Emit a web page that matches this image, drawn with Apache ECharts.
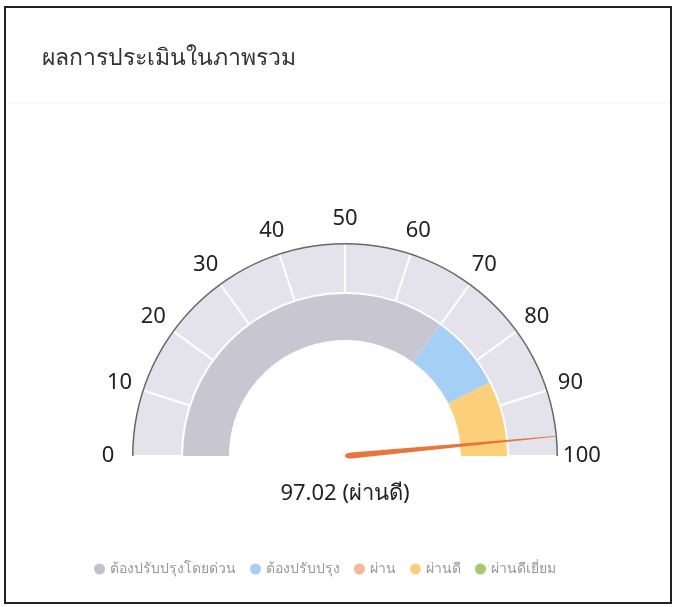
<!DOCTYPE html>
<html>
<head>
    <meta charset="utf-8">
    <title>ECharts</title>
    <script src="https://cdn.jsdelivr.net/npm/echarts@6/dist/echarts.min.js"></script>
    <style>
        body { margin: 0; background: #fff; }
    </style>
</head>
<body>
<div id="main" style="width: 676px;height:607px;"></div>
<script type="text/javascript">
    // ข้อมูล
    var titleText = 'ผลการประเมินในภาพรวม';
    var scoreValue = 97.02;
    var scoreGrade = 'ผ่านดี';
    var axisMin = 0;
    var axisMax = 100;
    var axisSplit = 10;
    // ช่วงแถบสีด้านใน (ค่าสิ้นสุดของแต่ละช่วง)
    var bandEnds = [70, 85, 100];
    var legendNames = ['ต้องปรับปรุงโดยด่วน', 'ต้องปรับปรุง', 'ผ่าน', 'ผ่านดี', 'ผ่านดีเยี่ยม'];

    var legendColors = ['#c4c1cc', '#a6cff5', '#f5b89c', '#fcd07a', '#a6c96a'];
    var bandColors = ['#c8c6d1', '#a6cff5', '#fcd07a'];
    var fontFamily = '"Noto Sans", "Open Sans", sans-serif';

    var center = [345, 456];

    function hiddenParts() {
        return {
            axisLine: { show: false, lineStyle: { width: 0 } },
            splitLine: { show: false, length: 0 },
            axisTick: { show: false, length: 0 },
            axisLabel: { show: false },
            pointer: { show: false },
            anchor: { show: false },
            title: { show: false },
            detail: { show: false }
        };
    }

    function gauge(extra) {
        var base = hiddenParts();
        base.type = 'gauge';
        base.center = center;
        base.startAngle = 180;
        base.endAngle = 0;
        base.min = axisMin;
        base.max = axisMax;
        base.splitNumber = axisSplit;
        base.silent = true;
        for (var k in extra) base[k] = extra[k];
        return base;
    }

    var series = [];

    // วงนอกสีเทาอ่อน + เส้นแบ่งสีขาว
    series.push(gauge({
        radius: 212,
        axisLine: { show: true, lineStyle: { width: 48, color: [[1, '#e4e3ec']] } },
        splitLine: { show: true, distance: -48, length: 48, lineStyle: { color: '#fff', width: 2 } },
        data: [{ value: scoreValue }]
    }));

    // เส้นขอบวงนอก
    series.push(gauge({
        radius: 213,
        axisLine: { show: true, lineStyle: { width: 1.5, color: [[1, '#666']] } },
        data: [{ value: scoreValue }]
    }));

    // แถบสีด้านใน
    var stops = [];
    for (var i = 0; i < bandEnds.length; i++) {
        stops.push([(bandEnds[i] - axisMin) / (axisMax - axisMin), bandColors[i]]);
    }
    series.push(gauge({
        radius: 162,
        axisLine: { show: true, lineStyle: { width: 46, color: stops } },
        data: [{ value: scoreValue }]
    }));

    // ตัวเลขบนแกน
    series.push(gauge({
        radius: 247,
        axisLabel: {
            show: true, distance: 0, rotate: 0.001,
            color: '#222', fontSize: 22, fontFamily: fontFamily
        },
        data: [{ value: scoreValue }]
    }));

    // เข็มและค่าคะแนน
    series.push(gauge({
        radius: 212,
        pointer: {
            show: true,
            icon: 'path://M1.3,0 L1.7,0 L3,97 Q3,100 1.5,100 Q0,100 0,97 Z',
            length: 211,
            width: 6,
            offsetCenter: [0, 0],
            keepAspect: false,
            itemStyle: { color: '#e8763c' }
        },
        detail: {
            show: true,
            offsetCenter: [0, 38],
            fontSize: 22,
            fontWeight: 'normal',
            color: '#222',
            fontFamily: fontFamily,
            formatter: function (v) { return v.toFixed(2) + ' (' + scoreGrade + ')'; }
        },
        z: 5,
        data: [{ value: scoreValue }]
    }));

    // ซีรีส์สำหรับคำอธิบายสัญลักษณ์
    for (var j = 0; j < legendNames.length; j++) {
        series.push(gauge({
            name: legendNames[j],
            radius: 1,
            itemStyle: { color: legendColors[j] },
            data: []
        }));
    }

    var myChart = echarts.init(document.getElementById('main'));
    var option = {
        animation: false,
        title: {
            text: titleText,
            left: 37,
            top: 42,
            textStyle: { fontSize: 23, fontWeight: 'normal', color: '#333', fontFamily: fontFamily }
        },
        legend: {
            data: legendNames,
            top: 557,
            left: 89,
            icon: 'circle',
            itemWidth: 11,
            itemHeight: 11,
            itemGap: 14,
            selectedMode: false,
            textStyle: { fontSize: 14, color: '#999', fontFamily: fontFamily }
        },
        graphic: [
            {
                type: 'rect',
                shape: { x: 5, y: 7, width: 666, height: 596 },
                style: { fill: 'none', stroke: '#222', lineWidth: 2 },
                silent: true
            },
            {
                type: 'line',
                shape: { x1: 8, y1: 103, x2: 670, y2: 103 },
                style: { stroke: '#eee', lineWidth: 1, lineDash: [2, 2] },
                silent: true
            }
        ],
        series: series
    };
    myChart.setOption(option);
</script>
</body>
</html>
